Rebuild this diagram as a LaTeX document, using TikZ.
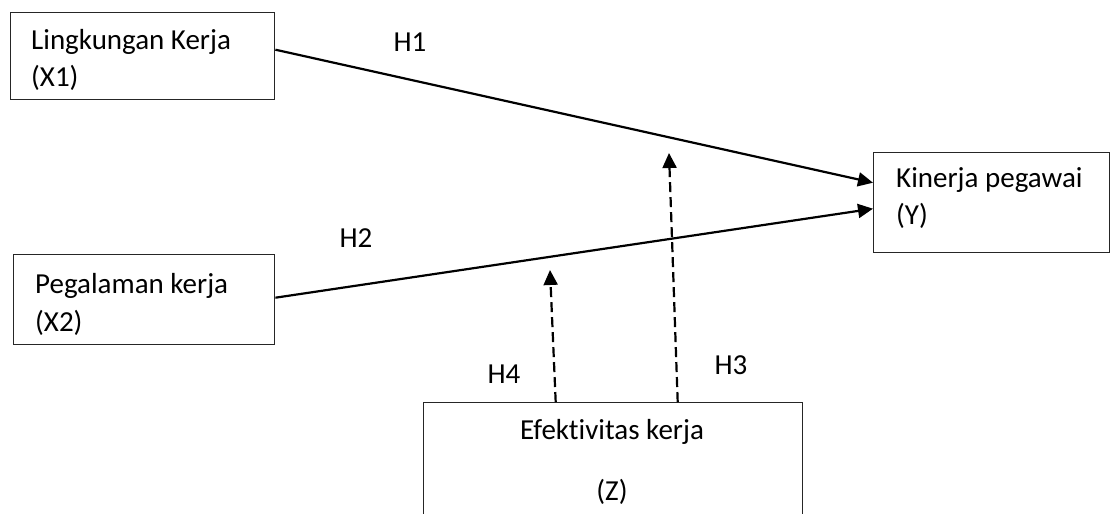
\documentclass[tikz,border=0pt]{standalone}
\usepackage{fontspec}
\setmainfont[RawFeature=-liga]{Carlito}
\usetikzlibrary{arrows.meta,calc}
\begin{document}
\begin{tikzpicture}[x=1pt,y=-1pt,
  box/.style={draw=black!85,line width=1.4pt,rectangle,inner sep=0pt,anchor=north west},
  lbl/.style={anchor=base west,inner sep=0pt,font=\fontsize{29}{34}\selectfont},
  hlbl/.style={anchor=base,inner sep=0pt,font=\fontsize{29}{34}\selectfont},
  solidarrow/.style={line width=2.2pt,-{Triangle[length=15pt,width=14pt]}},
  dasharrow/.style={line width=2.2pt,dash pattern=on 10pt off 5pt,-{Triangle[length=15pt,width=14pt]}}]
\clip (0,0) rectangle (1111,514);
\fill[white] (0,0) rectangle (1111,514);
% boxes
\node[box,minimum width=264pt,minimum height=87pt] (X1) at (10,12) {};
\node[box,minimum width=261pt,minimum height=90pt] (X2) at (13,254) {};
\node[box,minimum width=236pt,minimum height=100pt] (Y) at (873,152) {};
\node[box,minimum width=379pt,minimum height=130pt] (Z) at (423,402) {};
% texts
\node[lbl] (t1a) at (31,49) {Lingkungan Kerja};
\node[lbl] (t1b) at (31,86) {(X1)};
\node[lbl] (t2a) at (35,293) {Pegalaman kerja};
\node[lbl] (t2b) at (35,331) {(X2)};
\node[lbl] (tya) at (896,187) {Kinerja pegawai};
\node[lbl] (tyb) at (896,224) {(Y)};
\node[hlbl] (tza) at (612,439) {Efektivitas kerja};
\node[hlbl] (tzb) at (612,500) {(Z)};
% hypothesis labels
\node[hlbl] (h1) at (410,51) {H1};
\node[hlbl] (h2) at (356,247) {H2};
\node[hlbl] (h3) at (731,374) {H3};
\node[hlbl] (h4) at (504,383) {H4};
% connectors
\draw[solidarrow] ([yshift=6.5pt]X1.east) -- ([yshift=20pt]Y.west);
\draw[solidarrow] ([yshift=2pt]X2.east) -- ([yshift=-6pt]Y.west);
\coordinate (tip4) at (550,270);
\coordinate (tip3) at (669,153);
\draw[dasharrow] ([xshift=-57.5pt]Z.north) -- (tip4);
\draw[dasharrow] ([xshift=64.5pt]Z.north) -- (tip3);
\end{tikzpicture}
\end{document}
